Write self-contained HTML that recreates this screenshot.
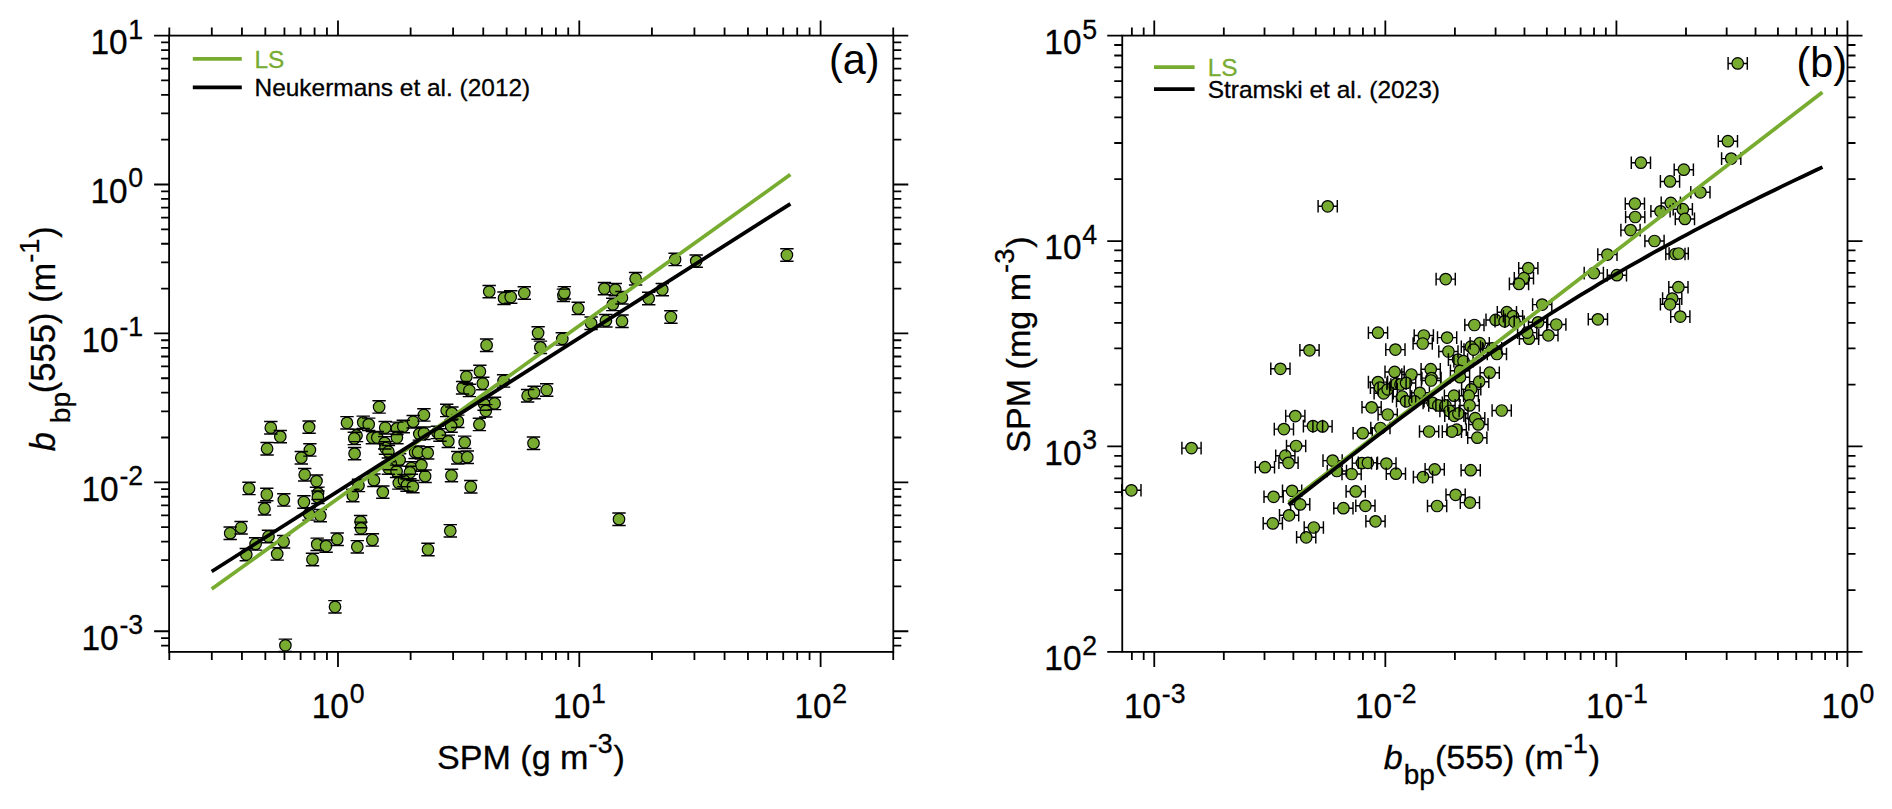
<!DOCTYPE html>
<html><head><meta charset="utf-8"><title>Figure</title>
<style>html,body{margin:0;padding:0;background:#fff}svg{display:block}</style>
</head><body>
<svg width="1892" height="809" viewBox="0 0 1892 809" font-family='"Liberation Sans", Arial, Helvetica, sans-serif' fill="#000">
<rect width="1892" height="809" fill="#fff"/>
<path d="M270.8 421.5v12.4M280.3 430.4v12.4M267.1 442.5v12.4M309.1 420.9v12.4M309.9 443.7v12.4M301.3 451.5v12.4M304.7 468.5v12.4M316.5 474.9v12.4M318.0 487.1v12.4M249.0 482.2v12.4M266.8 488.3v12.4M283.8 493.7v12.4M303.9 495.8v12.4M347.0 416.6v12.4M363.2 416.1v12.4M368.7 418.1v12.4M379.1 400.7v12.4M356.5 429.2v12.4M354.3 432.2v12.4M354.6 447.4v12.4M372.4 431.4v12.4M377.3 431.4v12.4M385.2 421.5v12.4M396.9 422.1v12.4M403.3 420.3v12.4M413.2 415.5v12.4M423.9 408.7v12.4M396.9 431.4v12.4M384.7 436.6v12.4M385.5 441.8v12.4M388.4 445.5v12.4M419.3 427.7v12.4M424.0 427.0v12.4M437.4 426.2v12.4M415.1 446.0v12.4M418.1 446.0v12.4M427.7 446.6v12.4M399.6 453.7v12.4M390.7 457.4v12.4M388.4 461.8v12.4M396.6 465.1v12.4M411.4 461.8v12.4M409.9 466.3v12.4M421.4 458.9v12.4M425.1 470.0v12.4M373.9 474.0v12.4M358.5 479.2v12.4M352.8 489.3v12.4M382.8 485.9v12.4M398.8 476.7v12.4M404.0 474.4v12.4M407.0 478.9v12.4M412.9 480.4v12.4M264.5 502.5v12.4M241.1 521.5v12.4M230.2 527.0v12.4M268.5 530.3v12.4M255.6 537.7v12.4M246.3 548.4v12.4M283.6 535.5v12.4M277.2 547.7v12.4M317.9 491.0v12.4M309.0 507.7v12.4M320.3 509.4v12.4M317.2 538.1v12.4M326.1 539.9v12.4M337.2 533.0v12.4M312.5 553.3v12.4M335.0 600.6v12.4M285.4 639.1v12.4M360.6 515.4v12.4M361.0 522.1v12.4M357.3 540.6v12.4M372.4 533.7v12.4M428.0 543.3v12.4M486.6 339.0v12.4M538.1 326.8v12.4M540.4 341.1v12.4M562.3 332.7v12.4M479.9 365.3v12.4M466.4 370.5v12.4M482.8 377.3v12.4M503.6 374.7v12.4M462.6 381.5v12.4M469.4 384.2v12.4M527.6 389.5v12.4M534.1 386.3v12.4M546.7 383.8v12.4M494.6 397.2v12.4M484.1 397.9v12.4M485.8 404.6v12.4M479.4 418.2v12.4M446.7 404.2v12.4M451.9 406.9v12.4M457.8 415.1v12.4M451.1 419.9v12.4M439.9 428.8v12.4M448.3 435.1v12.4M464.7 436.1v12.4M457.8 451.5v12.4M467.3 451.0v12.4M451.5 469.3v12.4M470.8 480.5v12.4M533.5 437.0v12.4M489.2 285.4v12.4M504.0 292.0v12.4M510.7 290.8v12.4M524.3 286.8v12.4M563.4 289.1v12.4M564.4 286.6v12.4M578.2 302.2v12.4M604.4 282.4v12.4M615.3 283.4v12.4M622.0 291.5v12.4M612.8 298.2v12.4M635.6 272.5v12.4M648.7 292.3v12.4M662.3 283.4v12.4M675.1 253.2v12.4M696.2 254.9v12.4M670.9 310.8v12.4M786.9 248.8v12.4M591.1 317.0v12.4M605.9 314.5v12.4M622.0 315.0v12.4M619.0 513.0v12.4M450.3 524.6v12.4" fill="none" stroke="#000" stroke-width="1.45"/>
<g fill="#77AC30" stroke="#000" stroke-width="1.2">
<circle cx="270.8" cy="427.7" r="5.75"/>
<circle cx="280.3" cy="436.6" r="5.75"/>
<circle cx="267.1" cy="448.7" r="5.75"/>
<circle cx="309.1" cy="427.1" r="5.75"/>
<circle cx="309.9" cy="449.9" r="5.75"/>
<circle cx="301.3" cy="457.7" r="5.75"/>
<circle cx="304.7" cy="474.7" r="5.75"/>
<circle cx="316.5" cy="481.1" r="5.75"/>
<circle cx="318.0" cy="493.3" r="5.75"/>
<circle cx="249.0" cy="488.4" r="5.75"/>
<circle cx="266.8" cy="494.5" r="5.75"/>
<circle cx="283.8" cy="499.9" r="5.75"/>
<circle cx="303.9" cy="502.0" r="5.75"/>
<circle cx="347.0" cy="422.8" r="5.75"/>
<circle cx="363.2" cy="422.3" r="5.75"/>
<circle cx="368.7" cy="424.3" r="5.75"/>
<circle cx="379.1" cy="406.9" r="5.75"/>
<circle cx="356.5" cy="435.4" r="5.75"/>
<circle cx="354.3" cy="438.4" r="5.75"/>
<circle cx="354.6" cy="453.6" r="5.75"/>
<circle cx="372.4" cy="437.6" r="5.75"/>
<circle cx="377.3" cy="437.6" r="5.75"/>
<circle cx="385.2" cy="427.7" r="5.75"/>
<circle cx="396.9" cy="428.3" r="5.75"/>
<circle cx="403.3" cy="426.5" r="5.75"/>
<circle cx="413.2" cy="421.7" r="5.75"/>
<circle cx="423.9" cy="414.9" r="5.75"/>
<circle cx="396.9" cy="437.6" r="5.75"/>
<circle cx="384.7" cy="442.8" r="5.75"/>
<circle cx="385.5" cy="448.0" r="5.75"/>
<circle cx="388.4" cy="451.7" r="5.75"/>
<circle cx="419.3" cy="433.9" r="5.75"/>
<circle cx="424.0" cy="433.2" r="5.75"/>
<circle cx="437.4" cy="432.4" r="5.75"/>
<circle cx="415.1" cy="452.2" r="5.75"/>
<circle cx="418.1" cy="452.2" r="5.75"/>
<circle cx="427.7" cy="452.8" r="5.75"/>
<circle cx="399.6" cy="459.9" r="5.75"/>
<circle cx="390.7" cy="463.6" r="5.75"/>
<circle cx="388.4" cy="468.0" r="5.75"/>
<circle cx="396.6" cy="471.3" r="5.75"/>
<circle cx="411.4" cy="468.0" r="5.75"/>
<circle cx="409.9" cy="472.5" r="5.75"/>
<circle cx="421.4" cy="465.1" r="5.75"/>
<circle cx="425.1" cy="476.2" r="5.75"/>
<circle cx="373.9" cy="480.2" r="5.75"/>
<circle cx="358.5" cy="485.4" r="5.75"/>
<circle cx="352.8" cy="495.5" r="5.75"/>
<circle cx="382.8" cy="492.1" r="5.75"/>
<circle cx="398.8" cy="482.9" r="5.75"/>
<circle cx="404.0" cy="480.6" r="5.75"/>
<circle cx="407.0" cy="485.1" r="5.75"/>
<circle cx="412.9" cy="486.6" r="5.75"/>
<circle cx="264.5" cy="508.7" r="5.75"/>
<circle cx="241.1" cy="527.7" r="5.75"/>
<circle cx="230.2" cy="533.2" r="5.75"/>
<circle cx="268.5" cy="536.5" r="5.75"/>
<circle cx="255.6" cy="543.9" r="5.75"/>
<circle cx="246.3" cy="554.6" r="5.75"/>
<circle cx="283.6" cy="541.7" r="5.75"/>
<circle cx="277.2" cy="553.9" r="5.75"/>
<circle cx="317.9" cy="497.2" r="5.75"/>
<circle cx="309.0" cy="513.9" r="5.75"/>
<circle cx="320.3" cy="515.6" r="5.75"/>
<circle cx="317.2" cy="544.3" r="5.75"/>
<circle cx="326.1" cy="546.1" r="5.75"/>
<circle cx="337.2" cy="539.2" r="5.75"/>
<circle cx="312.5" cy="559.5" r="5.75"/>
<circle cx="335.0" cy="606.8" r="5.75"/>
<circle cx="285.4" cy="645.3" r="5.75"/>
<circle cx="360.6" cy="521.6" r="5.75"/>
<circle cx="361.0" cy="528.3" r="5.75"/>
<circle cx="357.3" cy="546.8" r="5.75"/>
<circle cx="372.4" cy="539.9" r="5.75"/>
<circle cx="428.0" cy="549.5" r="5.75"/>
<circle cx="486.6" cy="345.2" r="5.75"/>
<circle cx="538.1" cy="333.0" r="5.75"/>
<circle cx="540.4" cy="347.3" r="5.75"/>
<circle cx="562.3" cy="338.9" r="5.75"/>
<circle cx="479.9" cy="371.5" r="5.75"/>
<circle cx="466.4" cy="376.7" r="5.75"/>
<circle cx="482.8" cy="383.5" r="5.75"/>
<circle cx="503.6" cy="380.9" r="5.75"/>
<circle cx="462.6" cy="387.7" r="5.75"/>
<circle cx="469.4" cy="390.4" r="5.75"/>
<circle cx="527.6" cy="395.7" r="5.75"/>
<circle cx="534.1" cy="392.5" r="5.75"/>
<circle cx="546.7" cy="390.0" r="5.75"/>
<circle cx="494.6" cy="403.4" r="5.75"/>
<circle cx="484.1" cy="404.1" r="5.75"/>
<circle cx="485.8" cy="410.8" r="5.75"/>
<circle cx="479.4" cy="424.4" r="5.75"/>
<circle cx="446.7" cy="410.4" r="5.75"/>
<circle cx="451.9" cy="413.1" r="5.75"/>
<circle cx="457.8" cy="421.3" r="5.75"/>
<circle cx="451.1" cy="426.1" r="5.75"/>
<circle cx="439.9" cy="435.0" r="5.75"/>
<circle cx="448.3" cy="441.3" r="5.75"/>
<circle cx="464.7" cy="442.3" r="5.75"/>
<circle cx="457.8" cy="457.7" r="5.75"/>
<circle cx="467.3" cy="457.2" r="5.75"/>
<circle cx="451.5" cy="475.5" r="5.75"/>
<circle cx="470.8" cy="486.7" r="5.75"/>
<circle cx="533.5" cy="443.2" r="5.75"/>
<circle cx="489.2" cy="291.6" r="5.75"/>
<circle cx="504.0" cy="298.2" r="5.75"/>
<circle cx="510.7" cy="297.0" r="5.75"/>
<circle cx="524.3" cy="293.0" r="5.75"/>
<circle cx="563.4" cy="295.3" r="5.75"/>
<circle cx="564.4" cy="292.8" r="5.75"/>
<circle cx="578.2" cy="308.4" r="5.75"/>
<circle cx="604.4" cy="288.6" r="5.75"/>
<circle cx="615.3" cy="289.6" r="5.75"/>
<circle cx="622.0" cy="297.7" r="5.75"/>
<circle cx="612.8" cy="304.4" r="5.75"/>
<circle cx="635.6" cy="278.7" r="5.75"/>
<circle cx="648.7" cy="298.5" r="5.75"/>
<circle cx="662.3" cy="289.6" r="5.75"/>
<circle cx="675.1" cy="259.4" r="5.75"/>
<circle cx="696.2" cy="261.1" r="5.75"/>
<circle cx="670.9" cy="317.0" r="5.75"/>
<circle cx="786.9" cy="255.0" r="5.75"/>
<circle cx="591.1" cy="323.2" r="5.75"/>
<circle cx="605.9" cy="320.7" r="5.75"/>
<circle cx="622.0" cy="321.2" r="5.75"/>
<circle cx="619.0" cy="519.2" r="5.75"/>
<circle cx="450.3" cy="530.8" r="5.75"/>
</g>
<path d="M264.1 421.5h13.4M264.1 433.9h13.4M273.6 430.4h13.4M273.6 442.8h13.4M260.4 442.5h13.4M260.4 454.9h13.4M302.4 420.9h13.4M302.4 433.3h13.4M303.2 443.7h13.4M303.2 456.1h13.4M294.6 451.5h13.4M294.6 463.9h13.4M298.0 468.5h13.4M298.0 480.9h13.4M309.8 474.9h13.4M309.8 487.3h13.4M311.3 487.1h13.4M311.3 499.5h13.4M242.3 482.2h13.4M242.3 494.6h13.4M260.1 488.3h13.4M260.1 500.7h13.4M277.1 493.7h13.4M277.1 506.1h13.4M297.2 495.8h13.4M297.2 508.2h13.4M340.3 416.6h13.4M340.3 429.0h13.4M356.5 416.1h13.4M356.5 428.5h13.4M362.0 418.1h13.4M362.0 430.5h13.4M372.4 400.7h13.4M372.4 413.1h13.4M349.8 429.2h13.4M349.8 441.6h13.4M347.6 432.2h13.4M347.6 444.6h13.4M347.9 447.4h13.4M347.9 459.8h13.4M365.7 431.4h13.4M365.7 443.8h13.4M370.6 431.4h13.4M370.6 443.8h13.4M378.5 421.5h13.4M378.5 433.9h13.4M390.2 422.1h13.4M390.2 434.5h13.4M396.6 420.3h13.4M396.6 432.7h13.4M406.5 415.5h13.4M406.5 427.9h13.4M417.2 408.7h13.4M417.2 421.1h13.4M390.2 431.4h13.4M390.2 443.8h13.4M378.0 436.6h13.4M378.0 449.0h13.4M378.8 441.8h13.4M378.8 454.2h13.4M381.7 445.5h13.4M381.7 457.9h13.4M412.6 427.7h13.4M412.6 440.1h13.4M417.3 427.0h13.4M417.3 439.4h13.4M430.7 426.2h13.4M430.7 438.6h13.4M408.4 446.0h13.4M408.4 458.4h13.4M411.4 446.0h13.4M411.4 458.4h13.4M421.0 446.6h13.4M421.0 459.0h13.4M392.9 453.7h13.4M392.9 466.1h13.4M384.0 457.4h13.4M384.0 469.8h13.4M381.7 461.8h13.4M381.7 474.2h13.4M389.9 465.1h13.4M389.9 477.5h13.4M404.7 461.8h13.4M404.7 474.2h13.4M403.2 466.3h13.4M403.2 478.7h13.4M414.7 458.9h13.4M414.7 471.3h13.4M418.4 470.0h13.4M418.4 482.4h13.4M367.2 474.0h13.4M367.2 486.4h13.4M351.8 479.2h13.4M351.8 491.6h13.4M346.1 489.3h13.4M346.1 501.7h13.4M376.1 485.9h13.4M376.1 498.3h13.4M392.1 476.7h13.4M392.1 489.1h13.4M397.3 474.4h13.4M397.3 486.8h13.4M400.3 478.9h13.4M400.3 491.3h13.4M406.2 480.4h13.4M406.2 492.8h13.4M257.8 502.5h13.4M257.8 514.9h13.4M234.4 521.5h13.4M234.4 533.9h13.4M223.5 527.0h13.4M223.5 539.4h13.4M261.8 530.3h13.4M261.8 542.7h13.4M248.9 537.7h13.4M248.9 550.1h13.4M239.6 548.4h13.4M239.6 560.8h13.4M276.9 535.5h13.4M276.9 547.9h13.4M270.5 547.7h13.4M270.5 560.1h13.4M311.2 491.0h13.4M311.2 503.4h13.4M302.3 507.7h13.4M302.3 520.1h13.4M313.6 509.4h13.4M313.6 521.8h13.4M310.5 538.1h13.4M310.5 550.5h13.4M319.4 539.9h13.4M319.4 552.3h13.4M330.5 533.0h13.4M330.5 545.4h13.4M305.8 553.3h13.4M305.8 565.7h13.4M328.3 600.6h13.4M328.3 613.0h13.4M278.7 639.1h13.4M278.7 651.5h13.4M353.9 515.4h13.4M353.9 527.8h13.4M354.3 522.1h13.4M354.3 534.5h13.4M350.6 540.6h13.4M350.6 553.0h13.4M365.7 533.7h13.4M365.7 546.1h13.4M421.3 543.3h13.4M421.3 555.7h13.4M479.9 339.0h13.4M479.9 351.4h13.4M531.4 326.8h13.4M531.4 339.2h13.4M533.7 341.1h13.4M533.7 353.5h13.4M555.6 332.7h13.4M555.6 345.1h13.4M473.2 365.3h13.4M473.2 377.7h13.4M459.7 370.5h13.4M459.7 382.9h13.4M476.1 377.3h13.4M476.1 389.7h13.4M496.9 374.7h13.4M496.9 387.1h13.4M455.9 381.5h13.4M455.9 393.9h13.4M462.7 384.2h13.4M462.7 396.6h13.4M520.9 389.5h13.4M520.9 401.9h13.4M527.4 386.3h13.4M527.4 398.7h13.4M540.0 383.8h13.4M540.0 396.2h13.4M487.9 397.2h13.4M487.9 409.6h13.4M477.4 397.9h13.4M477.4 410.3h13.4M479.1 404.6h13.4M479.1 417.0h13.4M472.7 418.2h13.4M472.7 430.6h13.4M440.0 404.2h13.4M440.0 416.6h13.4M445.2 406.9h13.4M445.2 419.3h13.4M451.1 415.1h13.4M451.1 427.5h13.4M444.4 419.9h13.4M444.4 432.3h13.4M433.2 428.8h13.4M433.2 441.2h13.4M441.6 435.1h13.4M441.6 447.5h13.4M458.0 436.1h13.4M458.0 448.5h13.4M451.1 451.5h13.4M451.1 463.9h13.4M460.6 451.0h13.4M460.6 463.4h13.4M444.8 469.3h13.4M444.8 481.7h13.4M464.1 480.5h13.4M464.1 492.9h13.4M526.8 437.0h13.4M526.8 449.4h13.4M482.5 285.4h13.4M482.5 297.8h13.4M497.3 292.0h13.4M497.3 304.4h13.4M504.0 290.8h13.4M504.0 303.2h13.4M517.6 286.8h13.4M517.6 299.2h13.4M556.7 289.1h13.4M556.7 301.5h13.4M557.7 286.6h13.4M557.7 299.0h13.4M571.5 302.2h13.4M571.5 314.6h13.4M597.7 282.4h13.4M597.7 294.8h13.4M608.6 283.4h13.4M608.6 295.8h13.4M615.3 291.5h13.4M615.3 303.9h13.4M606.1 298.2h13.4M606.1 310.6h13.4M628.9 272.5h13.4M628.9 284.9h13.4M642.0 292.3h13.4M642.0 304.7h13.4M655.6 283.4h13.4M655.6 295.8h13.4M668.4 253.2h13.4M668.4 265.6h13.4M689.5 254.9h13.4M689.5 267.3h13.4M664.2 310.8h13.4M664.2 323.2h13.4M780.2 248.8h13.4M780.2 261.2h13.4M584.4 317.0h13.4M584.4 329.4h13.4M599.2 314.5h13.4M599.2 326.9h13.4M615.3 315.0h13.4M615.3 327.4h13.4M612.3 513.0h13.4M612.3 525.4h13.4M443.6 524.6h13.4M443.6 537.0h13.4" fill="none" stroke="#000" stroke-width="1.45"/>
<line x1="211.7" y1="588.9" x2="790.4" y2="174.6" stroke="#77AC30" stroke-width="3.75"/>
<line x1="211.7" y1="571.5" x2="790.4" y2="203.8" stroke="#000" stroke-width="3.75"/>
<path d="M337.98 651.90v15M337.98 35.60v-15M579.29 651.90v15M579.29 35.60v-15M820.60 651.90v15M820.60 35.60v-15M169.31 651.90v8M169.31 35.60v-8M211.80 651.90v8M211.80 35.60v-8M241.95 651.90v8M241.95 35.60v-8M265.34 651.90v8M265.34 35.60v-8M284.45 651.90v8M284.45 35.60v-8M300.60 651.90v8M300.60 35.60v-8M314.59 651.90v8M314.59 35.60v-8M326.94 651.90v8M326.94 35.60v-8M410.62 651.90v8M410.62 35.60v-8M453.11 651.90v8M453.11 35.60v-8M483.26 651.90v8M483.26 35.60v-8M506.65 651.90v8M506.65 35.60v-8M525.76 651.90v8M525.76 35.60v-8M541.91 651.90v8M541.91 35.60v-8M555.90 651.90v8M555.90 35.60v-8M568.25 651.90v8M568.25 35.60v-8M651.93 651.90v8M651.93 35.60v-8M694.42 651.90v8M694.42 35.60v-8M724.57 651.90v8M724.57 35.60v-8M747.96 651.90v8M747.96 35.60v-8M767.07 651.90v8M767.07 35.60v-8M783.22 651.90v8M783.22 35.60v-8M797.21 651.90v8M797.21 35.60v-8M809.56 651.90v8M809.56 35.60v-8M893.24 651.90v8M893.24 35.60v-8M169.10 35.60h-15M893.30 35.60h15M169.10 184.51h-15M893.30 184.51h15M169.10 333.42h-15M893.30 333.42h15M169.10 482.33h-15M893.30 482.33h15M169.10 631.24h-15M893.30 631.24h15M169.10 645.67h-8M893.30 645.67h8M169.10 638.05h-8M893.30 638.05h8M169.10 586.41h-8M893.30 586.41h8M169.10 560.19h-8M893.30 560.19h8M169.10 541.59h-8M893.30 541.59h8M169.10 527.16h-8M893.30 527.16h8M169.10 515.37h-8M893.30 515.37h8M169.10 505.40h-8M893.30 505.40h8M169.10 496.76h-8M893.30 496.76h8M169.10 489.14h-8M893.30 489.14h8M169.10 437.50h-8M893.30 437.50h8M169.10 411.28h-8M893.30 411.28h8M169.10 392.68h-8M893.30 392.68h8M169.10 378.25h-8M893.30 378.25h8M169.10 366.46h-8M893.30 366.46h8M169.10 356.49h-8M893.30 356.49h8M169.10 347.85h-8M893.30 347.85h8M169.10 340.23h-8M893.30 340.23h8M169.10 288.59h-8M893.30 288.59h8M169.10 262.37h-8M893.30 262.37h8M169.10 243.77h-8M893.30 243.77h8M169.10 229.34h-8M893.30 229.34h8M169.10 217.55h-8M893.30 217.55h8M169.10 207.58h-8M893.30 207.58h8M169.10 198.94h-8M893.30 198.94h8M169.10 191.32h-8M893.30 191.32h8M169.10 139.68h-8M893.30 139.68h8M169.10 113.46h-8M893.30 113.46h8M169.10 94.86h-8M893.30 94.86h8M169.10 80.43h-8M893.30 80.43h8M169.10 68.64h-8M893.30 68.64h8M169.10 58.67h-8M893.30 58.67h8M169.10 50.03h-8M893.30 50.03h8M169.10 42.41h-8M893.30 42.41h8" fill="none" stroke="#000" stroke-width="1.8"/>
<rect x="169.10" y="35.60" width="724.20" height="616.30" fill="none" stroke="#000" stroke-width="1.8"/>
<text transform="translate(143.20 54.00) scale(1 1.04)" text-anchor="end" font-size="33.4" stroke="#000" stroke-width="0.3">10<tspan font-size="26.7" dy="-14.90" dx="0.8">1</tspan></text>
<text transform="translate(143.20 202.91) scale(1 1.04)" text-anchor="end" font-size="33.4" stroke="#000" stroke-width="0.3">10<tspan font-size="26.7" dy="-14.90" dx="0.8">0</tspan></text>
<text transform="translate(143.20 351.82) scale(1 1.04)" text-anchor="end" font-size="33.4" stroke="#000" stroke-width="0.3">10<tspan font-size="26.7" dy="-14.90" dx="0.8">-1</tspan></text>
<text transform="translate(143.20 500.73) scale(1 1.04)" text-anchor="end" font-size="33.4" stroke="#000" stroke-width="0.3">10<tspan font-size="26.7" dy="-14.90" dx="0.8">-2</tspan></text>
<text transform="translate(143.20 649.64) scale(1 1.04)" text-anchor="end" font-size="33.4" stroke="#000" stroke-width="0.3">10<tspan font-size="26.7" dy="-14.90" dx="0.8">-3</tspan></text>
<text transform="translate(338.18 718.10) scale(1 1.04)" text-anchor="middle" font-size="33.4" stroke="#000" stroke-width="0.3">10<tspan font-size="26.7" dy="-14.90" dx="0.8">0</tspan></text>
<text transform="translate(579.49 718.10) scale(1 1.04)" text-anchor="middle" font-size="33.4" stroke="#000" stroke-width="0.3">10<tspan font-size="26.7" dy="-14.90" dx="0.8">1</tspan></text>
<text transform="translate(820.80 718.10) scale(1 1.04)" text-anchor="middle" font-size="33.4" stroke="#000" stroke-width="0.3">10<tspan font-size="26.7" dy="-14.90" dx="0.8">2</tspan></text>
<line x1="192.8" y1="58.8" x2="241.8" y2="58.8" stroke="#77AC30" stroke-width="3.75"/>
<line x1="192.8" y1="87.4" x2="241.8" y2="87.4" stroke="#000" stroke-width="3.75"/>
<text x="254.5" y="67.9" font-size="24.45" fill="#77AC30" stroke="#77AC30" stroke-width="0.3">LS</text>
<text x="254.5" y="96.3" font-size="24.45" stroke="#000" stroke-width="0.3">Neukermans et al. (2012)</text>
<text transform="translate(879.5 74.3) scale(1 1.03)" font-size="41.3" text-anchor="end">(a)</text>
<text x="531" y="768.9" font-size="34.1" text-anchor="middle" stroke="#000" stroke-width="0.3">SPM (g m<tspan font-size="27.3" dy="-16">-3</tspan><tspan dy="16" dx="0.8">)</tspan></text>
<text transform="translate(54.7 451.3) rotate(-90)" font-size="34.5" stroke="#000" stroke-width="0.3"><tspan font-style="italic">b</tspan><tspan font-size="28.0" dy="15.6" dx="1.2"> bp</tspan><tspan dy="-15.6" dx="-1.2">(555) (m</tspan><tspan font-size="27.3" dy="-16">-1</tspan><tspan dy="16" dx="0.8">)</tspan></text>
<path d="M1121.8 490.3h19.2M1181.9 448.1h19.2M1299.9 350.3h19.2M1270.8 368.8h19.2M1285.7 416.1h19.2M1274.3 429.1h19.2M1303.4 426.1h19.2M1312.9 426.4h19.2M1286.5 446.0h19.2M1275.7 455.7h19.2M1278.9 462.8h19.2M1255.3 467.2h19.2M1323.0 460.6h19.2M1327.3 471.0h19.2M1342.0 474.0h19.2M1352.3 463.1h19.2M1358.3 462.8h19.2M1376.8 463.6h19.2M1386.3 473.7h19.2M1282.5 490.8h19.2M1264.0 496.8h19.2M1290.6 504.4h19.2M1279.5 515.3h19.2M1263.2 523.4h19.2M1304.2 527.5h19.2M1296.6 537.3h19.2M1346.1 491.4h19.2M1333.8 508.2h19.2M1355.8 505.8h19.2M1365.9 521.3h19.2M1353.1 433.2h19.2M1370.8 428.0h19.2M1368.4 332.7h19.2M1385.8 349.6h19.2M1414.2 335.5h19.2M1413.1 343.5h19.2M1437.5 337.6h19.2M1438.8 351.5h19.2M1464.8 325.0h19.2M1486.0 319.9h19.2M1497.3 312.2h19.2M1503.4 316.2h19.2M1495.0 321.3h19.2M1505.0 321.8h19.2M1470.1 343.2h19.2M1461.3 346.7h19.2M1464.0 349.6h19.2M1482.5 348.3h19.2M1487.3 354.0h19.2M1448.4 359.6h19.2M1453.9 361.2h19.2M1450.4 370.8h19.2M1450.4 377.2h19.2M1480.1 372.7h19.2M1469.6 381.7h19.2M1421.1 369.2h19.2M1421.9 378.1h19.2M1421.4 380.5h19.2M1385.0 371.9h19.2M1401.8 374.5h19.2M1368.4 382.1h19.2M1370.4 387.7h19.2M1374.1 393.3h19.2M1378.1 389.3h19.2M1386.9 383.7h19.2M1390.9 384.5h19.2M1396.5 382.9h19.2M1410.2 392.8h19.2M1392.5 396.5h19.2M1396.5 401.3h19.2M1404.9 401.3h19.2M1362.0 407.3h19.2M1378.1 414.5h19.2M1423.1 402.9h19.2M1428.7 405.4h19.2M1435.9 405.4h19.2M1444.4 395.7h19.2M1461.6 389.3h19.2M1459.2 395.7h19.2M1460.0 405.4h19.2M1439.9 411.0h19.2M1444.7 415.8h19.2M1448.8 413.4h19.2M1465.6 418.2h19.2M1492.1 410.5h19.2M1519.4 338.7h19.2M1468.8 424.4h19.2M1467.7 437.7h19.2M1447.1 429.7h19.2M1442.3 431.6h19.2M1419.5 431.5h19.2M1425.1 469.4h19.2M1413.4 477.1h19.2M1461.1 470.2h19.2M1446.0 494.8h19.2M1460.3 502.6h19.2M1427.5 506.0h19.2M1718.3 141.2h19.2M1721.6 158.6h19.2M1631.3 162.7h19.2M1674.2 169.7h19.2M1660.4 181.4h19.2M1690.8 192.3h19.2M1625.3 203.7h19.2M1661.2 202.9h19.2M1650.9 211.3h19.2M1673.2 209.2h19.2M1675.3 218.9h19.2M1625.6 217.0h19.2M1620.9 230.1h19.2M1644.9 241.0h19.2M1665.8 254.0h19.2M1669.1 253.5h19.2M1597.8 254.6h19.2M1584.2 273.1h19.2M1607.3 275.2h19.2M1518.7 268.2h19.2M1514.3 278.2h19.2M1509.4 283.9h19.2M1532.6 304.6h19.2M1668.8 287.2h19.2M1662.6 298.6h19.2M1660.4 304.3h19.2M1670.7 316.6h19.2M1588.3 319.3h19.2M1546.7 324.5h19.2M1528.5 322.3h19.2M1538.8 335.3h19.2M1517.6 332.6h19.2M1728.1 63.4h19.2M1318.1 206.3h19.2M1436.1 279.1h19.2" fill="none" stroke="#000" stroke-width="1.45"/>
<g fill="#77AC30" stroke="#000" stroke-width="1.2">
<circle cx="1131.4" cy="490.3" r="5.75"/>
<circle cx="1191.5" cy="448.1" r="5.75"/>
<circle cx="1309.5" cy="350.3" r="5.75"/>
<circle cx="1280.4" cy="368.8" r="5.75"/>
<circle cx="1295.3" cy="416.1" r="5.75"/>
<circle cx="1283.9" cy="429.1" r="5.75"/>
<circle cx="1313.0" cy="426.1" r="5.75"/>
<circle cx="1322.5" cy="426.4" r="5.75"/>
<circle cx="1296.1" cy="446.0" r="5.75"/>
<circle cx="1285.3" cy="455.7" r="5.75"/>
<circle cx="1288.5" cy="462.8" r="5.75"/>
<circle cx="1264.9" cy="467.2" r="5.75"/>
<circle cx="1332.6" cy="460.6" r="5.75"/>
<circle cx="1336.9" cy="471.0" r="5.75"/>
<circle cx="1351.6" cy="474.0" r="5.75"/>
<circle cx="1361.9" cy="463.1" r="5.75"/>
<circle cx="1367.9" cy="462.8" r="5.75"/>
<circle cx="1386.4" cy="463.6" r="5.75"/>
<circle cx="1395.9" cy="473.7" r="5.75"/>
<circle cx="1292.1" cy="490.8" r="5.75"/>
<circle cx="1273.6" cy="496.8" r="5.75"/>
<circle cx="1300.2" cy="504.4" r="5.75"/>
<circle cx="1289.1" cy="515.3" r="5.75"/>
<circle cx="1272.8" cy="523.4" r="5.75"/>
<circle cx="1313.8" cy="527.5" r="5.75"/>
<circle cx="1306.2" cy="537.3" r="5.75"/>
<circle cx="1355.7" cy="491.4" r="5.75"/>
<circle cx="1343.4" cy="508.2" r="5.75"/>
<circle cx="1365.4" cy="505.8" r="5.75"/>
<circle cx="1375.5" cy="521.3" r="5.75"/>
<circle cx="1362.7" cy="433.2" r="5.75"/>
<circle cx="1380.4" cy="428.0" r="5.75"/>
<circle cx="1378.0" cy="332.7" r="5.75"/>
<circle cx="1395.4" cy="349.6" r="5.75"/>
<circle cx="1423.8" cy="335.5" r="5.75"/>
<circle cx="1422.7" cy="343.5" r="5.75"/>
<circle cx="1447.1" cy="337.6" r="5.75"/>
<circle cx="1448.4" cy="351.5" r="5.75"/>
<circle cx="1474.4" cy="325.0" r="5.75"/>
<circle cx="1495.6" cy="319.9" r="5.75"/>
<circle cx="1506.9" cy="312.2" r="5.75"/>
<circle cx="1513.0" cy="316.2" r="5.75"/>
<circle cx="1504.6" cy="321.3" r="5.75"/>
<circle cx="1514.6" cy="321.8" r="5.75"/>
<circle cx="1479.7" cy="343.2" r="5.75"/>
<circle cx="1470.9" cy="346.7" r="5.75"/>
<circle cx="1473.6" cy="349.6" r="5.75"/>
<circle cx="1492.1" cy="348.3" r="5.75"/>
<circle cx="1496.9" cy="354.0" r="5.75"/>
<circle cx="1458.0" cy="359.6" r="5.75"/>
<circle cx="1463.5" cy="361.2" r="5.75"/>
<circle cx="1460.0" cy="370.8" r="5.75"/>
<circle cx="1460.0" cy="377.2" r="5.75"/>
<circle cx="1489.7" cy="372.7" r="5.75"/>
<circle cx="1479.2" cy="381.7" r="5.75"/>
<circle cx="1430.7" cy="369.2" r="5.75"/>
<circle cx="1431.5" cy="378.1" r="5.75"/>
<circle cx="1431.0" cy="380.5" r="5.75"/>
<circle cx="1394.6" cy="371.9" r="5.75"/>
<circle cx="1411.4" cy="374.5" r="5.75"/>
<circle cx="1378.0" cy="382.1" r="5.75"/>
<circle cx="1380.0" cy="387.7" r="5.75"/>
<circle cx="1383.7" cy="393.3" r="5.75"/>
<circle cx="1387.7" cy="389.3" r="5.75"/>
<circle cx="1396.5" cy="383.7" r="5.75"/>
<circle cx="1400.5" cy="384.5" r="5.75"/>
<circle cx="1406.1" cy="382.9" r="5.75"/>
<circle cx="1419.8" cy="392.8" r="5.75"/>
<circle cx="1402.1" cy="396.5" r="5.75"/>
<circle cx="1406.1" cy="401.3" r="5.75"/>
<circle cx="1414.5" cy="401.3" r="5.75"/>
<circle cx="1371.6" cy="407.3" r="5.75"/>
<circle cx="1387.7" cy="414.5" r="5.75"/>
<circle cx="1432.7" cy="402.9" r="5.75"/>
<circle cx="1438.3" cy="405.4" r="5.75"/>
<circle cx="1445.5" cy="405.4" r="5.75"/>
<circle cx="1454.0" cy="395.7" r="5.75"/>
<circle cx="1471.2" cy="389.3" r="5.75"/>
<circle cx="1468.8" cy="395.7" r="5.75"/>
<circle cx="1469.6" cy="405.4" r="5.75"/>
<circle cx="1449.5" cy="411.0" r="5.75"/>
<circle cx="1454.3" cy="415.8" r="5.75"/>
<circle cx="1458.4" cy="413.4" r="5.75"/>
<circle cx="1475.2" cy="418.2" r="5.75"/>
<circle cx="1501.7" cy="410.5" r="5.75"/>
<circle cx="1529.0" cy="338.7" r="5.75"/>
<circle cx="1478.4" cy="424.4" r="5.75"/>
<circle cx="1477.3" cy="437.7" r="5.75"/>
<circle cx="1456.7" cy="429.7" r="5.75"/>
<circle cx="1451.9" cy="431.6" r="5.75"/>
<circle cx="1429.1" cy="431.5" r="5.75"/>
<circle cx="1434.7" cy="469.4" r="5.75"/>
<circle cx="1423.0" cy="477.1" r="5.75"/>
<circle cx="1470.7" cy="470.2" r="5.75"/>
<circle cx="1455.6" cy="494.8" r="5.75"/>
<circle cx="1469.9" cy="502.6" r="5.75"/>
<circle cx="1437.1" cy="506.0" r="5.75"/>
<circle cx="1727.9" cy="141.2" r="5.75"/>
<circle cx="1731.2" cy="158.6" r="5.75"/>
<circle cx="1640.9" cy="162.7" r="5.75"/>
<circle cx="1683.8" cy="169.7" r="5.75"/>
<circle cx="1670.0" cy="181.4" r="5.75"/>
<circle cx="1700.4" cy="192.3" r="5.75"/>
<circle cx="1634.9" cy="203.7" r="5.75"/>
<circle cx="1670.8" cy="202.9" r="5.75"/>
<circle cx="1660.5" cy="211.3" r="5.75"/>
<circle cx="1682.8" cy="209.2" r="5.75"/>
<circle cx="1684.9" cy="218.9" r="5.75"/>
<circle cx="1635.2" cy="217.0" r="5.75"/>
<circle cx="1630.5" cy="230.1" r="5.75"/>
<circle cx="1654.5" cy="241.0" r="5.75"/>
<circle cx="1675.4" cy="254.0" r="5.75"/>
<circle cx="1678.7" cy="253.5" r="5.75"/>
<circle cx="1607.4" cy="254.6" r="5.75"/>
<circle cx="1593.8" cy="273.1" r="5.75"/>
<circle cx="1616.9" cy="275.2" r="5.75"/>
<circle cx="1528.3" cy="268.2" r="5.75"/>
<circle cx="1523.9" cy="278.2" r="5.75"/>
<circle cx="1519.0" cy="283.9" r="5.75"/>
<circle cx="1542.2" cy="304.6" r="5.75"/>
<circle cx="1678.4" cy="287.2" r="5.75"/>
<circle cx="1672.2" cy="298.6" r="5.75"/>
<circle cx="1670.0" cy="304.3" r="5.75"/>
<circle cx="1680.3" cy="316.6" r="5.75"/>
<circle cx="1597.9" cy="319.3" r="5.75"/>
<circle cx="1556.3" cy="324.5" r="5.75"/>
<circle cx="1538.1" cy="322.3" r="5.75"/>
<circle cx="1548.4" cy="335.3" r="5.75"/>
<circle cx="1527.2" cy="332.6" r="5.75"/>
<circle cx="1737.7" cy="63.4" r="5.75"/>
<circle cx="1327.7" cy="206.3" r="5.75"/>
<circle cx="1445.7" cy="279.1" r="5.75"/>
</g>
<path d="M1121.8 484.0v12.6M1141.0 484.0v12.6M1181.9 441.8v12.6M1201.1 441.8v12.6M1299.9 344.0v12.6M1319.1 344.0v12.6M1270.8 362.5v12.6M1290.0 362.5v12.6M1285.7 409.8v12.6M1304.9 409.8v12.6M1274.3 422.8v12.6M1293.5 422.8v12.6M1303.4 419.8v12.6M1322.6 419.8v12.6M1312.9 420.1v12.6M1332.1 420.1v12.6M1286.5 439.7v12.6M1305.7 439.7v12.6M1275.7 449.4v12.6M1294.9 449.4v12.6M1278.9 456.5v12.6M1298.1 456.5v12.6M1255.3 460.9v12.6M1274.5 460.9v12.6M1323.0 454.3v12.6M1342.2 454.3v12.6M1327.3 464.7v12.6M1346.5 464.7v12.6M1342.0 467.7v12.6M1361.2 467.7v12.6M1352.3 456.8v12.6M1371.5 456.8v12.6M1358.3 456.5v12.6M1377.5 456.5v12.6M1376.8 457.3v12.6M1396.0 457.3v12.6M1386.3 467.4v12.6M1405.5 467.4v12.6M1282.5 484.5v12.6M1301.7 484.5v12.6M1264.0 490.5v12.6M1283.2 490.5v12.6M1290.6 498.1v12.6M1309.8 498.1v12.6M1279.5 509.0v12.6M1298.7 509.0v12.6M1263.2 517.1v12.6M1282.4 517.1v12.6M1304.2 521.2v12.6M1323.4 521.2v12.6M1296.6 531.0v12.6M1315.8 531.0v12.6M1346.1 485.1v12.6M1365.3 485.1v12.6M1333.8 501.9v12.6M1353.0 501.9v12.6M1355.8 499.5v12.6M1375.0 499.5v12.6M1365.9 515.0v12.6M1385.1 515.0v12.6M1353.1 426.9v12.6M1372.3 426.9v12.6M1370.8 421.7v12.6M1390.0 421.7v12.6M1368.4 326.4v12.6M1387.6 326.4v12.6M1385.8 343.3v12.6M1405.0 343.3v12.6M1414.2 329.2v12.6M1433.4 329.2v12.6M1413.1 337.2v12.6M1432.3 337.2v12.6M1437.5 331.3v12.6M1456.7 331.3v12.6M1438.8 345.2v12.6M1458.0 345.2v12.6M1464.8 318.7v12.6M1484.0 318.7v12.6M1486.0 313.6v12.6M1505.2 313.6v12.6M1497.3 305.9v12.6M1516.5 305.9v12.6M1503.4 309.9v12.6M1522.6 309.9v12.6M1495.0 315.0v12.6M1514.2 315.0v12.6M1505.0 315.5v12.6M1524.2 315.5v12.6M1470.1 336.9v12.6M1489.3 336.9v12.6M1461.3 340.4v12.6M1480.5 340.4v12.6M1464.0 343.3v12.6M1483.2 343.3v12.6M1482.5 342.0v12.6M1501.7 342.0v12.6M1487.3 347.7v12.6M1506.5 347.7v12.6M1448.4 353.3v12.6M1467.6 353.3v12.6M1453.9 354.9v12.6M1473.1 354.9v12.6M1450.4 364.5v12.6M1469.6 364.5v12.6M1450.4 370.9v12.6M1469.6 370.9v12.6M1480.1 366.4v12.6M1499.3 366.4v12.6M1469.6 375.4v12.6M1488.8 375.4v12.6M1421.1 362.9v12.6M1440.3 362.9v12.6M1421.9 371.8v12.6M1441.1 371.8v12.6M1421.4 374.2v12.6M1440.6 374.2v12.6M1385.0 365.6v12.6M1404.2 365.6v12.6M1401.8 368.2v12.6M1421.0 368.2v12.6M1368.4 375.8v12.6M1387.6 375.8v12.6M1370.4 381.4v12.6M1389.6 381.4v12.6M1374.1 387.0v12.6M1393.3 387.0v12.6M1378.1 383.0v12.6M1397.3 383.0v12.6M1386.9 377.4v12.6M1406.1 377.4v12.6M1390.9 378.2v12.6M1410.1 378.2v12.6M1396.5 376.6v12.6M1415.7 376.6v12.6M1410.2 386.5v12.6M1429.4 386.5v12.6M1392.5 390.2v12.6M1411.7 390.2v12.6M1396.5 395.0v12.6M1415.7 395.0v12.6M1404.9 395.0v12.6M1424.1 395.0v12.6M1362.0 401.0v12.6M1381.2 401.0v12.6M1378.1 408.2v12.6M1397.3 408.2v12.6M1423.1 396.6v12.6M1442.3 396.6v12.6M1428.7 399.1v12.6M1447.9 399.1v12.6M1435.9 399.1v12.6M1455.1 399.1v12.6M1444.4 389.4v12.6M1463.6 389.4v12.6M1461.6 383.0v12.6M1480.8 383.0v12.6M1459.2 389.4v12.6M1478.4 389.4v12.6M1460.0 399.1v12.6M1479.2 399.1v12.6M1439.9 404.7v12.6M1459.1 404.7v12.6M1444.7 409.5v12.6M1463.9 409.5v12.6M1448.8 407.1v12.6M1468.0 407.1v12.6M1465.6 411.9v12.6M1484.8 411.9v12.6M1492.1 404.2v12.6M1511.3 404.2v12.6M1519.4 332.4v12.6M1538.6 332.4v12.6M1468.8 418.1v12.6M1488.0 418.1v12.6M1467.7 431.4v12.6M1486.9 431.4v12.6M1447.1 423.4v12.6M1466.3 423.4v12.6M1442.3 425.3v12.6M1461.5 425.3v12.6M1419.5 425.2v12.6M1438.7 425.2v12.6M1425.1 463.1v12.6M1444.3 463.1v12.6M1413.4 470.8v12.6M1432.6 470.8v12.6M1461.1 463.9v12.6M1480.3 463.9v12.6M1446.0 488.5v12.6M1465.2 488.5v12.6M1460.3 496.3v12.6M1479.5 496.3v12.6M1427.5 499.7v12.6M1446.7 499.7v12.6M1718.3 134.9v12.6M1737.5 134.9v12.6M1721.6 152.3v12.6M1740.8 152.3v12.6M1631.3 156.4v12.6M1650.5 156.4v12.6M1674.2 163.4v12.6M1693.4 163.4v12.6M1660.4 175.1v12.6M1679.6 175.1v12.6M1690.8 186.0v12.6M1710.0 186.0v12.6M1625.3 197.4v12.6M1644.5 197.4v12.6M1661.2 196.6v12.6M1680.4 196.6v12.6M1650.9 205.0v12.6M1670.1 205.0v12.6M1673.2 202.9v12.6M1692.4 202.9v12.6M1675.3 212.6v12.6M1694.5 212.6v12.6M1625.6 210.7v12.6M1644.8 210.7v12.6M1620.9 223.8v12.6M1640.1 223.8v12.6M1644.9 234.7v12.6M1664.1 234.7v12.6M1665.8 247.7v12.6M1685.0 247.7v12.6M1669.1 247.2v12.6M1688.3 247.2v12.6M1597.8 248.3v12.6M1617.0 248.3v12.6M1584.2 266.8v12.6M1603.4 266.8v12.6M1607.3 268.9v12.6M1626.5 268.9v12.6M1518.7 261.9v12.6M1537.9 261.9v12.6M1514.3 271.9v12.6M1533.5 271.9v12.6M1509.4 277.6v12.6M1528.6 277.6v12.6M1532.6 298.3v12.6M1551.8 298.3v12.6M1668.8 280.9v12.6M1688.0 280.9v12.6M1662.6 292.3v12.6M1681.8 292.3v12.6M1660.4 298.0v12.6M1679.6 298.0v12.6M1670.7 310.3v12.6M1689.9 310.3v12.6M1588.3 313.0v12.6M1607.5 313.0v12.6M1546.7 318.2v12.6M1565.9 318.2v12.6M1528.5 316.0v12.6M1547.7 316.0v12.6M1538.8 329.0v12.6M1558.0 329.0v12.6M1517.6 326.3v12.6M1536.8 326.3v12.6M1728.1 57.1v12.6M1747.3 57.1v12.6M1318.1 200.0v12.6M1337.3 200.0v12.6M1436.1 272.8v12.6M1455.3 272.8v12.6" fill="none" stroke="#000" stroke-width="1.45"/>
<line x1="1288.5" y1="502.5" x2="1822.4" y2="92.3" stroke="#77AC30" stroke-width="3.75"/>
<polyline points="1288.5,504.7 1295.3,499.5 1302.0,494.2 1308.8,489.0 1315.5,483.7 1322.3,478.4 1329.1,473.2 1335.8,467.9 1342.6,462.7 1349.3,457.4 1356.1,452.2 1362.9,447.0 1369.6,441.8 1376.4,436.6 1383.1,431.4 1389.9,426.2 1396.7,421.1 1403.4,416.0 1410.2,410.9 1416.9,405.9 1423.7,400.9 1430.4,395.9 1437.2,390.9 1444.0,386.0 1450.7,381.1 1457.5,376.3 1464.2,371.5 1471.0,366.8 1477.8,362.1 1484.5,357.4 1491.3,352.7 1498.0,348.1 1504.8,343.6 1511.6,339.1 1518.3,334.6 1525.1,330.1 1531.8,325.7 1538.6,321.4 1545.4,317.0 1552.1,312.7 1558.9,308.5 1565.6,304.3 1572.4,300.1 1579.2,295.9 1585.9,291.8 1592.7,287.8 1599.4,283.7 1606.2,279.7 1613.0,275.8 1619.7,271.8 1626.5,267.9 1633.2,264.1 1640.0,260.3 1646.8,256.5 1653.5,252.7 1660.3,249.0 1667.0,245.3 1673.8,241.6 1680.6,237.9 1687.3,234.3 1694.1,230.7 1700.8,227.2 1707.6,223.6 1714.3,220.1 1721.1,216.7 1727.9,213.2 1734.6,209.8 1741.4,206.4 1748.1,203.0 1754.9,199.6 1761.7,196.3 1768.4,193.0 1775.2,189.7 1781.9,186.4 1788.7,183.1 1795.5,179.9 1802.2,176.7 1809.0,173.5 1815.7,170.3 1822.5,167.1" fill="none" stroke="#000" stroke-width="3.75"/>
<path d="M1154.26 651.90v15M1154.26 35.60v-15M1385.34 651.90v15M1385.34 35.60v-15M1616.42 651.90v15M1616.42 35.60v-15M1847.50 651.90v15M1847.50 35.60v-15M1131.87 651.90v8M1131.87 35.60v-8M1143.69 651.90v8M1143.69 35.60v-8M1223.82 651.90v8M1223.82 35.60v-8M1264.51 651.90v8M1264.51 35.60v-8M1293.38 651.90v8M1293.38 35.60v-8M1315.78 651.90v8M1315.78 35.60v-8M1334.08 651.90v8M1334.08 35.60v-8M1349.55 651.90v8M1349.55 35.60v-8M1362.95 651.90v8M1362.95 35.60v-8M1374.77 651.90v8M1374.77 35.60v-8M1454.90 651.90v8M1454.90 35.60v-8M1495.59 651.90v8M1495.59 35.60v-8M1524.46 651.90v8M1524.46 35.60v-8M1546.86 651.90v8M1546.86 35.60v-8M1565.16 651.90v8M1565.16 35.60v-8M1580.63 651.90v8M1580.63 35.60v-8M1594.03 651.90v8M1594.03 35.60v-8M1605.85 651.90v8M1605.85 35.60v-8M1685.98 651.90v8M1685.98 35.60v-8M1726.67 651.90v8M1726.67 35.60v-8M1755.54 651.90v8M1755.54 35.60v-8M1777.94 651.90v8M1777.94 35.60v-8M1796.24 651.90v8M1796.24 35.60v-8M1811.71 651.90v8M1811.71 35.60v-8M1825.11 651.90v8M1825.11 35.60v-8M1836.93 651.90v8M1836.93 35.60v-8M1122.25 651.90h-15M1847.50 651.90h15M1122.25 446.47h-15M1847.50 446.47h15M1122.25 241.04h-15M1847.50 241.04h15M1122.25 35.61h-15M1847.50 35.61h15M1122.25 590.06h-8M1847.50 590.06h8M1122.25 553.88h-8M1847.50 553.88h8M1122.25 528.22h-8M1847.50 528.22h8M1122.25 508.31h-8M1847.50 508.31h8M1122.25 492.04h-8M1847.50 492.04h8M1122.25 478.29h-8M1847.50 478.29h8M1122.25 466.38h-8M1847.50 466.38h8M1122.25 455.87h-8M1847.50 455.87h8M1122.25 384.63h-8M1847.50 384.63h8M1122.25 348.45h-8M1847.50 348.45h8M1122.25 322.79h-8M1847.50 322.79h8M1122.25 302.88h-8M1847.50 302.88h8M1122.25 286.61h-8M1847.50 286.61h8M1122.25 272.86h-8M1847.50 272.86h8M1122.25 260.95h-8M1847.50 260.95h8M1122.25 250.44h-8M1847.50 250.44h8M1122.25 179.20h-8M1847.50 179.20h8M1122.25 143.02h-8M1847.50 143.02h8M1122.25 117.36h-8M1847.50 117.36h8M1122.25 97.45h-8M1847.50 97.45h8M1122.25 81.18h-8M1847.50 81.18h8M1122.25 67.43h-8M1847.50 67.43h8M1122.25 55.52h-8M1847.50 55.52h8M1122.25 45.01h-8M1847.50 45.01h8" fill="none" stroke="#000" stroke-width="1.8"/>
<rect x="1122.25" y="35.60" width="725.25" height="616.30" fill="none" stroke="#000" stroke-width="1.8"/>
<text transform="translate(1097.10 54.01) scale(1 1.04)" text-anchor="end" font-size="33.4" stroke="#000" stroke-width="0.3">10<tspan font-size="26.7" dy="-14.90" dx="0.8">5</tspan></text>
<text transform="translate(1097.10 259.44) scale(1 1.04)" text-anchor="end" font-size="33.4" stroke="#000" stroke-width="0.3">10<tspan font-size="26.7" dy="-14.90" dx="0.8">4</tspan></text>
<text transform="translate(1097.10 464.87) scale(1 1.04)" text-anchor="end" font-size="33.4" stroke="#000" stroke-width="0.3">10<tspan font-size="26.7" dy="-14.90" dx="0.8">3</tspan></text>
<text transform="translate(1097.10 670.30) scale(1 1.04)" text-anchor="end" font-size="33.4" stroke="#000" stroke-width="0.3">10<tspan font-size="26.7" dy="-14.90" dx="0.8">2</tspan></text>
<text transform="translate(1154.76 718.10) scale(1 1.04)" text-anchor="middle" font-size="33.4" stroke="#000" stroke-width="0.3">10<tspan font-size="26.7" dy="-14.90" dx="0.8">-3</tspan></text>
<text transform="translate(1385.84 718.10) scale(1 1.04)" text-anchor="middle" font-size="33.4" stroke="#000" stroke-width="0.3">10<tspan font-size="26.7" dy="-14.90" dx="0.8">-2</tspan></text>
<text transform="translate(1616.92 718.10) scale(1 1.04)" text-anchor="middle" font-size="33.4" stroke="#000" stroke-width="0.3">10<tspan font-size="26.7" dy="-14.90" dx="0.8">-1</tspan></text>
<text transform="translate(1848.00 718.10) scale(1 1.04)" text-anchor="middle" font-size="33.4" stroke="#000" stroke-width="0.3">10<tspan font-size="26.7" dy="-14.90" dx="0.8">0</tspan></text>
<line x1="1154" y1="67.15" x2="1194.6" y2="67.15" stroke="#77AC30" stroke-width="3.75"/>
<line x1="1154" y1="89.05" x2="1194.6" y2="89.05" stroke="#000" stroke-width="3.75"/>
<text x="1207.7" y="76.05" font-size="24.45" fill="#77AC30" stroke="#77AC30" stroke-width="0.3">LS</text>
<text x="1207.7" y="97.9" font-size="24.45" stroke="#000" stroke-width="0.3">Stramski et al. (2023)</text>
<text transform="translate(1847 76.7) scale(1 1.03)" font-size="41.3" text-anchor="end">(b)</text>
<text x="1383.8" y="769.3" font-size="34.1" stroke="#000" stroke-width="0.3"><tspan font-style="italic">b</tspan><tspan font-size="28.0" dy="15" dx="1">bp</tspan><tspan dy="-15">(555) (m</tspan><tspan font-size="27.3" dy="-16">-1</tspan><tspan dy="16" dx="0.8">)</tspan></text>
<text transform="translate(1030.4 344.6) rotate(-90)" font-size="34.1" text-anchor="middle" stroke="#000" stroke-width="0.3">SPM (mg m<tspan font-size="27.3" dy="-16">-3</tspan><tspan dy="16" dx="0.8">)</tspan></text>
</svg>
</body></html>
